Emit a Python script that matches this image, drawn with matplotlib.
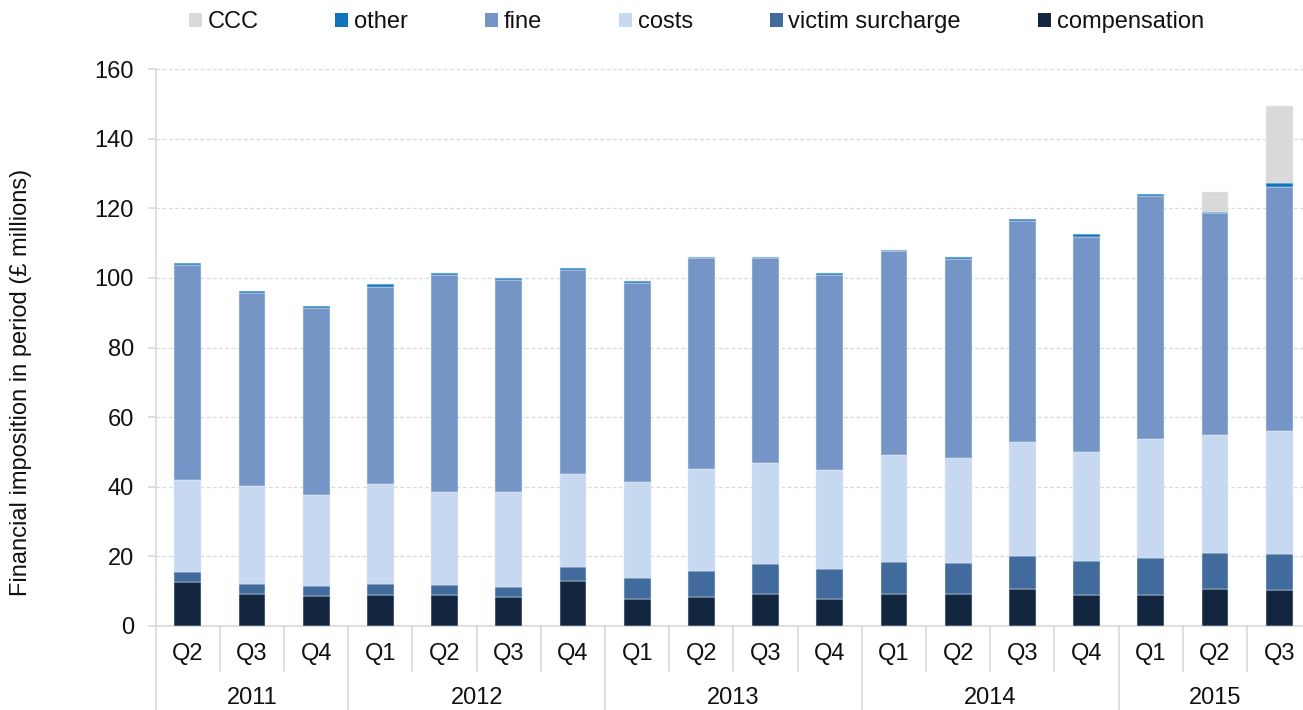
import matplotlib
matplotlib.use("Agg")
import numpy as np
import matplotlib.pyplot as plt
from matplotlib.patches import Patch

# ================================================================
# DATA (£ millions per quarter)
# ================================================================
quarters = ["Q2", "Q3", "Q4",
            "Q1", "Q2", "Q3", "Q4",
            "Q1", "Q2", "Q3", "Q4",
            "Q1", "Q2", "Q3", "Q4",
            "Q1", "Q2", "Q3"]
years = ["2011", "2012", "2013", "2014", "2015"]
quarters_per_year = [3, 4, 4, 4, 3]

compensation = [12.6, 9.3, 8.5, 8.8, 8.8, 8.2, 12.9, 7.8, 8.2, 9.3, 7.8,
                9.3, 9.3, 10.7, 8.9, 8.9, 10.7, 10.3]
victim_surcharge = [2.9, 2.9, 2.9, 3.4, 3.0, 3.0, 4.1, 5.9, 7.7, 8.4, 8.5,
                    9.1, 8.8, 9.5, 9.9, 10.6, 10.4, 10.4]
costs = [26.4, 27.9, 26.2, 28.6, 26.8, 27.4, 26.8, 27.6, 29.3, 29.0, 28.6,
         30.6, 30.1, 32.7, 31.3, 34.3, 33.8, 35.2]
fine = [61.9, 55.5, 53.7, 56.6, 62.2, 60.7, 58.4, 57.3, 60.5, 59.0, 55.9,
        58.6, 57.2, 63.4, 61.7, 69.8, 63.6, 70.2]
other = [0.6, 0.6, 0.6, 0.8, 0.7, 0.7, 0.5, 0.6, 0.3, 0.3, 0.7,
         0.5, 0.6, 0.6, 0.7, 0.6, 0.3, 1.1]
ccc = [0, 0, 0, 0, 0, 0, 0, 0, 0, 0, 0,
       0, 0, 0, 0, 0, 5.9, 22.2]

series = [
    ("compensation", compensation, "#12263f"),
    ("victim surcharge", victim_surcharge, "#416a9d"),
    ("costs", costs, "#c6d9f0"),
    ("fine", fine, "#7495c5"),
    ("other", other, "#0f75bc"),
    ("CCC", ccc, "#d9d9d9"),
]

# ================================================================
# FIGURE
# ================================================================
plt.rcParams["font.family"] = ["Liberation Sans", "DejaVu Sans"]
fs = 17
grey = "#d9d9d9"
txt = "#111111"

W, H = 1303, 710
fig = plt.figure(figsize=(W / 100, H / 100), dpi=100)

# axes placed in pixel terms; right edge runs a little past the image
left_px, bottom_px, top_px = 155.7, 626, 69
cat_w = 64.2
n = len(quarters)
ax = fig.add_axes([left_px / W, 1 - bottom_px / H,
                   n * cat_w / W, (bottom_px - top_px) / H])

x = np.arange(n)
bottom = np.zeros(n)
for name, vals, col in series:
    vals = np.array(vals)
    ax.bar(x, vals, 0.42, bottom=bottom, color=col, edgecolor="#e4ebf5",
           linewidth=0.35, label=name, zorder=3)
    bottom += vals

ax.set_xlim(-0.5, n - 0.5)
ax.set_ylim(0, 160)
ax.set_yticks(np.arange(0, 161, 20))
ax.yaxis.grid(True, color=grey, linestyle=(0, (3, 2)), linewidth=0.9, zorder=0)
ax.set_axisbelow(True)

for s in ["top", "right"]:
    ax.spines[s].set_visible(False)
ax.spines["left"].set_color(grey)
ax.spines["bottom"].set_color(grey)
ax.spines["left"].set_linewidth(1.2)
ax.spines["bottom"].set_linewidth(1.2)

ax.tick_params(axis="y", length=5.8, width=1.2, color=grey, pad=10,
               labelsize=fs, labelcolor=txt)
ax.set_xticks(x)
ax.set_xticklabels(quarters)
ax.tick_params(axis="x", length=0, pad=12, labelsize=fs, labelcolor=txt)

# ================================================================
# TWO-LEVEL CATEGORY AXIS
# ================================================================
ax_h = bottom_px - top_px
q_sep = -45 / ax_h
y_sep = -(H - bottom_px + 5) / ax_h
trans = ax.get_xaxis_transform()

starts = np.cumsum([0] + quarters_per_year[:-1])
for i in range(n):
    if i in starts:
        ax.plot([i - 0.5, i - 0.5], [0, y_sep], color=grey, lw=1.2,
                transform=trans, clip_on=False)
    else:
        ax.plot([i - 0.5, i - 0.5], [0, q_sep], color=grey, lw=1.2,
                transform=trans, clip_on=False)

for yr, s, k in zip(years, starts, quarters_per_year):
    ax.text(s + (k - 1) / 2, -72 / ax_h, yr, transform=trans, ha="center",
            va="center", fontsize=fs, color=txt)

# ================================================================
# LABELS & LEGEND
# ================================================================
fig.text(21 / W, 1 - 382 / H, "Financial imposition in period (£ millions)",
         rotation=90, ha="center", va="center", fontsize=fs, color=txt)

handles = [Patch(facecolor=col, edgecolor="none", label=name)
           for name, vals, col in series[::-1]]
fig.legend(handles=handles, loc="center left",
           bbox_to_anchor=(177 / W, 1 - 22 / H), ncol=6, frameon=False,
           fontsize=fs, handlelength=0.55, handleheight=0.55,
           handletextpad=0.25, columnspacing=3.25, borderpad=0,
           labelcolor=txt)

fig.savefig("out.png", dpi=100)
